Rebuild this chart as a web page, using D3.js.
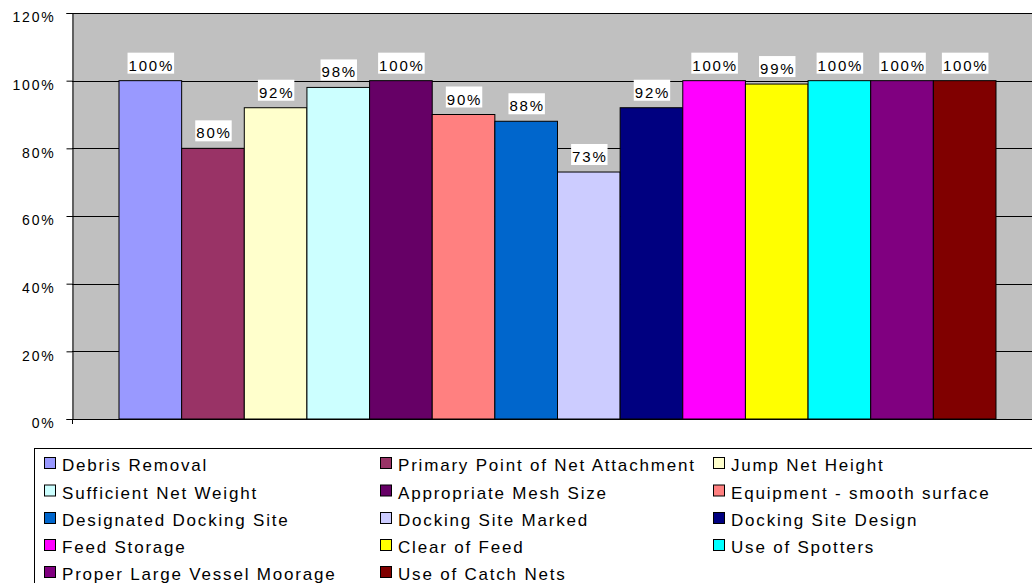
<!DOCTYPE html>
<html>
<head>
<meta charset="utf-8">
<script src="https://cdn.jsdelivr.net/npm/d3@7"></script>
<style>
  html, body { margin: 0; padding: 0; background: #ffffff; }
  svg { display: block; font-family: "Liberation Sans", Arial, sans-serif; }
</style>
</head>
<body>
<svg id="chart" width="1032" height="583"></svg>
<script>
const seriesNames = [
  "Debris Removal", "Primary Point of Net Attachment", "Jump Net Height",
  "Sufficient Net Weight", "Appropriate Mesh Size", "Equipment - smooth surface",
  "Designated Docking Site", "Docking Site Marked", "Docking Site Design",
  "Feed Storage", "Clear of Feed", "Use of Spotters",
  "Proper Large Vessel Moorage", "Use of Catch Nets"
];
const seriesValues = [1.00, 0.80, 0.92, 0.98, 1.00, 0.90, 0.88, 0.73, 0.92, 1.00, 0.99, 1.00, 1.00, 1.00];
const seriesColors = [
  "#9999FF", "#993366", "#FFFFCC", "#CCFFFF", "#660066", "#FF8080",
  "#0066CC", "#CCCCFF", "#000080", "#FF00FF", "#FFFF00", "#00FFFF",
  "#800080", "#800000"
];
const yTicks = [0, 0.2, 0.4, 0.6, 0.8, 1.0, 1.2];

const svg = d3.select("#chart");
const plot = { left: 72, right: 1043, top: 13, bottom: 419 };

const y = d3.scaleLinear().domain([0, 1.2]).range([plot.bottom, plot.top]);
const xCat = d3.scaleBand().domain(["all"]).range([plot.left, plot.right]).paddingInner(0).paddingOuter(0.0536);
const x = d3.scaleBand().domain(seriesNames).range([xCat("all"), xCat("all") + xCat.bandwidth()]);
const fmt = d3.format(".0%");

// plot background
svg.append("rect")
  .attr("x", plot.left).attr("y", plot.top)
  .attr("width", plot.right - plot.left).attr("height", plot.bottom - plot.top)
  .attr("fill", "#C0C0C0");

// gridlines
svg.append("g").selectAll("line").data(yTicks.filter(d => d > 0)).join("line")
  .attr("x1", plot.left).attr("x2", plot.right)
  .attr("y1", d => Math.round(y(d)) + 0.5).attr("y2", d => Math.round(y(d)) + 0.5)
  .attr("stroke", "#000").attr("stroke-width", 1);

// bars
svg.append("g").selectAll("rect").data(seriesNames).join("rect")
  .attr("x", d => x(d))
  .attr("y", (d, i) => y(seriesValues[i]))
  .attr("width", x.bandwidth())
  .attr("height", (d, i) => y(0) - y(seriesValues[i]))
  .attr("fill", (d, i) => seriesColors[i])
  .attr("stroke", "#000").attr("stroke-width", 1);

// y axis
const yAxis = d3.axisLeft(y).tickValues(yTicks).tickFormat(fmt).tickSize(6).tickPadding(11);
const gy = svg.append("g").attr("transform", `translate(${plot.left + 0.5},0)`).call(yAxis);
gy.select(".domain").attr("stroke", "#000");
gy.selectAll(".tick line").attr("stroke", "#000");
gy.selectAll(".tick text")
  .attr("font-size", 14).attr("fill", "#000")
  .attr("letter-spacing", "1.8px")
  .attr("dy", "0.62em")
  .attr("font-family", "'Liberation Sans', Arial, sans-serif");

// x axis baseline and left tick
svg.append("line")
  .attr("x1", plot.left).attr("x2", plot.right)
  .attr("y1", y(0) + 0.5).attr("y2", y(0) + 0.5)
  .attr("stroke", "#000");
svg.append("line")
  .attr("x1", plot.left + 0.5).attr("x2", plot.left + 0.5)
  .attr("y1", y(0)).attr("y2", y(0) + 5)
  .attr("stroke", "#000");

// data labels
const labels = svg.append("g").selectAll("g").data(seriesNames).join("g");
labels.each(function(d, i) {
  const g = d3.select(this);
  const cx = x(d) + x.bandwidth() / 2;
  const base = y(seriesValues[i]) - 10;
  const t = g.append("text")
    .attr("x", cx + 1).attr("y", base)
    .attr("text-anchor", "middle")
    .attr("font-size", 15).attr("letter-spacing", "1.8px")
    .attr("fill", "#000")
    .text(fmt(seriesValues[i]));
  const bb = t.node().getBBox();
  g.insert("rect", "text")
    .attr("x", bb.x - 1).attr("y", base - 18)
    .attr("width", bb.width + 1).attr("height", 21)
    .attr("fill", "#fff");
});

// legend
const legendBox = { left: 34, top: 448 };
svg.append("rect")
  .attr("x", legendBox.left + 0.5).attr("y", legendBox.top + 0.5)
  .attr("width", 1100).attr("height", 200)
  .attr("fill", "#fff").attr("stroke", "#000").attr("stroke-width", 1);

const colX = [44, 380, 713];
const rowBase = [471, 498.5, 526, 553, 580];
const leg = svg.append("g").selectAll("g").data(seriesNames).join("g")
  .attr("transform", (d, i) => `translate(${colX[i % 3]},${rowBase[Math.floor(i / 3)]})`);
leg.append("rect")
  .attr("x", 0.5).attr("y", -13.5).attr("width", 11).attr("height", 11)
  .attr("fill", (d, i) => seriesColors[i])
  .attr("stroke", "#000").attr("stroke-width", 1);
leg.append("text")
  .attr("x", 18).attr("y", 0)
  .attr("font-size", 17).attr("letter-spacing", "1.8px")
  .attr("fill", "#000")
  .text(d => d);
</script>
</body>
</html>
